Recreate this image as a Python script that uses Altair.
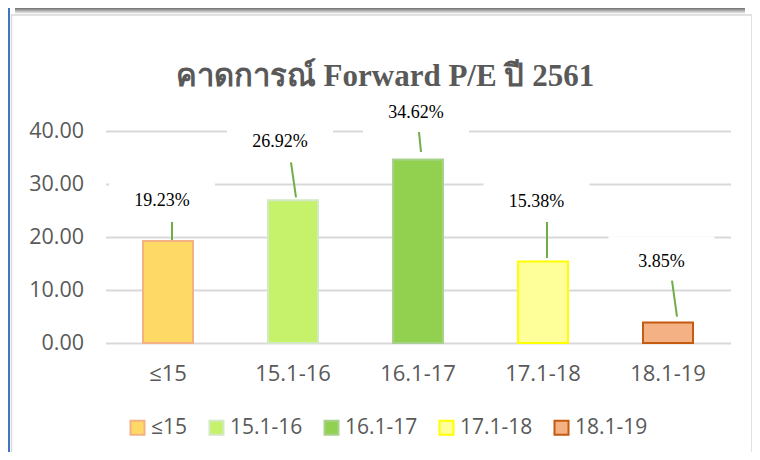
import altair as alt
import pandas as pd

# ---- data ----
categories = ["≤15", "15.1-16", "16.1-17", "17.1-18", "18.1-19"]
values = [19.23, 26.92, 34.62, 15.38, 3.85]
labels = ["19.23%", "26.92%", "34.62%", "15.38%", "3.85%"]
y_ticks = [0, 10, 20, 30, 40]
title_text = ["คาดการณ์ Forward P/E ปี 2561"]

# ---- styles / layout (kept apart from data) ----
fills = ["#FFD966", "#C5F26A", "#92D050", "#FFFF99", "#F4B183"]
strokes = ["#F4B183", "#D3E8C4", "#A9D18E", "#FFFF00", "#C55A11"]
label_off = [(-6, -40), (-13, -58), (-2, -47), (-6.5, -59.5), (-6.5, -60.5)]
leader_off = [(4, -19, 4, -1), (-2, -38, 3, -3), (1, -27.5, 3, -7.5),
              (4, -39.5, 4, -3.5), (4, -42, 9, -6)]
BOX = "M-1,-0.49L1,-0.49L1,0.49L-1,0.49Z"
GRAY = "#595959"
AXFONT = "Open Sans"

df = pd.DataFrame({"cat": categories, "val": values, "label": labels})
one = pd.DataFrame({"k": [0]})
tdf = pd.DataFrame({"t": title_text})

xenc = alt.X("cat:N", sort=categories,
             scale=alt.Scale(domain=categories, paddingInner=0.6, paddingOuter=0.3),
             axis=alt.Axis(title=None, labelAngle=0, labelFontSize=22, labelColor=GRAY,
                           labelFont=AXFONT, domain=False, ticks=False, labelPadding=20))
yenc = alt.Y("val:Q", scale=alt.Scale(domain=[0, 40], nice=False, zero=True),
             axis=alt.Axis(title=None, values=y_ticks, format=".2f", grid=True,
                           gridColor="#D9D9D9", gridWidth=2, domain=False, ticks=False,
                           labelPadding=22, labelFontSize=21.5, labelColor=GRAY,
                           labelFont=AXFONT))

base = alt.Chart(df)

# frame decorations
blue = alt.Chart(one).mark_rect(color="#4472C4").encode(
    x=alt.value(-97.5), x2=alt.value(-95.5), y=alt.value(-123), y2=alt.value(321))
frame = alt.Chart(one).mark_rect(fillOpacity=0, stroke="#D9D9D9", strokeWidth=1.5).encode(
    x=alt.value(-94), x2=alt.value(646.5), y=alt.value(-116), y2=alt.value(340))
shadow = alt.Chart(one).mark_rect(
    fill=alt.Gradient(gradient="linear", x1=0, x2=0, y1=0, y2=1,
                      stops=[alt.GradientStop(color="#6f6f6f", offset=0),
                             alt.GradientStop(color="#ffffff", offset=1)])).encode(
    x=alt.value(-90.5), x2=alt.value(639.5), y=alt.value(-123), y2=alt.value(-117))
title = alt.Chart(tdf).mark_text(
    font="Liberation Serif", fontSize=31, fontWeight="bold", color=GRAY,
    align="center", baseline="alphabetic").encode(
    text="t:N", x=alt.value(279.5), y=alt.value(-45))

layers = [blue, frame, shadow, title]

# white label boxes (hide gridlines like the original)
for i, c in enumerate(categories):
    dx, dy = label_off[i]
    layers.append(base.transform_filter(alt.datum.cat == c).mark_point(
        shape=BOX, filled=True, color="white", opacity=1, size=106 * 106,
        xOffset=dx, yOffset=dy).encode(x=xenc, y=yenc))

bars = base.mark_bar(strokeWidth=2).encode(
    x=xenc, y=yenc,
    color=alt.Color("cat:N", sort=categories,
                    scale=alt.Scale(domain=categories, range=fills),
                    legend=alt.Legend(title=None)),
    stroke=alt.Stroke("cat:N", sort=categories,
                      scale=alt.Scale(domain=categories, range=strokes),
                      legend=alt.Legend(title=None)))
layers.append(bars)

for i, c in enumerate(categories):
    a, b, cc, d = leader_off[i]
    layers.append(base.transform_filter(alt.datum.cat == c).mark_rule(
        color="#70AD47", strokeWidth=2, xOffset=a, yOffset=b, x2Offset=cc, y2Offset=d
    ).encode(x=xenc, x2=alt.X2("cat:N"), y=yenc, y2=alt.Y2("val:Q")))

for i, c in enumerate(categories):
    dx, dy = label_off[i]
    layers.append(base.transform_filter(alt.datum.cat == c).mark_text(
        dx=dx, dy=dy, font="Liberation Serif", fontSize=18, color="black",
        align="center", baseline="middle").encode(x=xenc, y=yenc, text="label:N"))

chart = alt.layer(*layers).properties(
    width=625, height=212,
    autosize=alt.AutoSizeParams(type="none"),
    padding={"left": 97.5, "top": 123, "right": 21.5, "bottom": 109},
    background="white",
).configure_view(stroke=None).configure_legend(
    orient="none", legendX=21.5, legendY=286, direction="horizontal",
    padding=0, symbolType="square", symbolSize=196, symbolStrokeWidth=2,
    labelFontSize=21, labelFont=AXFONT, labelColor=GRAY, labelOffset=3,
    columnPadding=17, symbolOpacity=1,
)

chart.save("out.html", embed_options={"renderer": "svg", "actions": False})
